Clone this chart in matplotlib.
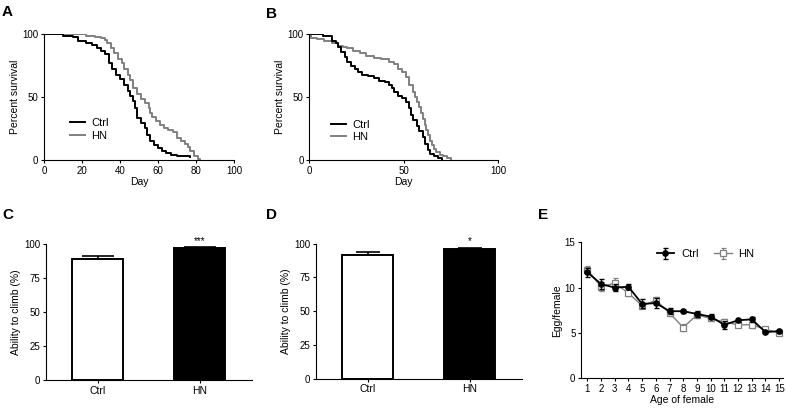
import numpy as np
import matplotlib
matplotlib.use("Agg")
import matplotlib.pyplot as plt

plt.rcParams['font.family'] = ['Liberation Sans', 'DejaVu Sans']
plt.rcParams['font.size'] = 7
plt.rcParams['axes.linewidth'] = 0.8
plt.rcParams['xtick.major.width'] = 0.8
plt.rcParams['ytick.major.width'] = 0.8
plt.rcParams['xtick.major.size'] = 2.5
plt.rcParams['ytick.major.size'] = 2.5
plt.rcParams['xtick.major.pad'] = 1.5
plt.rcParams['ytick.major.pad'] = 1.5
plt.rcParams['xtick.labelsize'] = 7
plt.rcParams['ytick.labelsize'] = 7

GRAY = '#808080'

# survival A (day, percent)
a_ctrl_day = [0, 5, 10, 15, 18, 22, 25, 28, 30, 32, 34, 36, 38, 40, 42, 44, 45, 47, 48, 49,
              51, 53, 54, 56, 58, 60, 62, 64, 67, 70, 73, 77]
a_ctrl_pct = [100, 99.5, 98.5, 97, 94, 92.5, 91, 88.5, 86.5, 84, 77, 72, 67, 64, 59, 55, 51, 47, 41, 33,
              29, 25, 20, 15, 12, 9.5, 7.5, 5.5, 4, 3.3, 2.8, 2.6]
a_hn_day = [0, 18, 22, 27, 30, 32, 33, 35, 37, 39, 41, 42, 44, 45, 47, 49, 51, 53, 55, 56, 57,
            59, 61, 63, 65, 68, 70, 72, 74, 76, 77, 79, 81, 82]
a_hn_pct = [100, 99.5, 98.5, 97.5, 96.5, 95, 93, 89, 85, 80, 77, 72, 67, 63, 57, 52, 48, 45, 41, 37, 34,
            31, 28, 25, 23.5, 22, 17.5, 15, 13, 10, 7, 3, 0.5, 0]

# survival B
b_ctrl_day = [0, 7, 12, 14, 15, 17, 19, 20, 22, 24, 26, 28, 31, 34, 37, 40, 42, 44, 45, 47, 49,
              51, 53, 54, 55, 57, 58, 60, 61, 63, 64, 66, 68, 70]
b_ctrl_pct = [100, 99, 95, 93, 90, 86, 82, 78, 75, 72, 70, 68, 67, 65, 63, 62, 60, 57, 54, 51, 49,
              46, 41, 36, 32, 27, 23, 18, 13, 8, 5, 3, 1.5, 0]
b_hn_day = [0, 1, 4, 8, 12, 15, 18, 20, 23, 27, 30, 34, 38, 42, 45, 47, 49, 51, 53, 55, 56, 57,
            58, 59, 60, 61, 62, 63, 64, 65, 66, 67, 69, 71, 73, 75]
b_hn_pct = [100, 97, 96, 95, 93, 91, 90, 89, 87, 85, 83, 81, 80, 78, 76, 72, 70, 66, 60, 54, 50, 46,
            42, 37, 33, 28, 24, 20, 15, 12, 9, 6, 4, 3, 1.5, 0]

# climbing C, D
groups = ['Ctrl', 'HN']
c_mean = [89, 96.5]
c_err = [2, 1]
d_mean = [92, 96]
d_err = [2, 1]

# eggs E
age = list(range(1, 16))
e_ctrl = [11.7, 10.4, 10.0, 10.1, 8.2, 8.3, 7.4, 7.4, 7.1, 6.8, 5.9, 6.4, 6.5, 5.1, 5.2]
e_ctrl_err = [0.5, 0.5, 0.35, 0.3, 0.5, 0.6, 0.35, 0.15, 0.3, 0.3, 0.45, 0.15, 0.25, 0.15, 0.15]
e_hn = [12.0, 10.1, 10.5, 9.4, 8.0, 8.6, 7.2, 5.6, 7.0, 6.6, 6.2, 5.9, 5.9, 5.4, 5.0]
e_hn_err = [0.4, 0.5, 0.6, 0.3, 0.3, 0.4, 0.3, 0.4, 0.3, 0.3, 0.3, 0.25, 0.3, 0.2, 0.2]

fig = plt.figure(figsize=(7.86, 4.12), dpi=100)
W, H = 786.0, 412.0


def ax_px(l, r, t, b):
    return fig.add_axes([l / W, 1 - b / H, (r - l) / W, (b - t) / H])


def clean(ax):
    ax.spines['top'].set_visible(False)
    ax.spines['right'].set_visible(False)


def survival(ax, cd, cp, hd, hp, xt, leg_xy):
    ax.step(cd, cp, where='post', color='black', lw=1.4, label='Ctrl', zorder=3)
    ax.step(hd, hp, where='post', color=GRAY, lw=1.4, label='HN', zorder=2)
    ax.set_xlim(0, 100)
    ax.set_ylim(0, 100)
    ax.set_xticks(xt)
    ax.set_yticks([0, 50, 100])
    ax.set_xlabel('Day', fontsize=7.5, labelpad=1)
    ax.set_ylabel('Percent survival', fontsize=7.5, labelpad=2)
    ax.legend(loc='lower left', bbox_to_anchor=leg_xy, frameon=False, fontsize=8,
              handlelength=1.3, handletextpad=0.6, labelspacing=0.2, borderpad=0)
    clean(ax)


axA = ax_px(44, 234, 33.7, 160)
survival(axA, a_ctrl_day, a_ctrl_pct, a_hn_day, a_hn_pct, [0, 20, 40, 60, 80, 100], (0.11, 0.11))
axB = ax_px(309.3, 498.3, 34.3, 160)
survival(axB, b_ctrl_day, b_ctrl_pct, b_hn_day, b_hn_pct, [0, 50, 100], (0.088, 0.1))


def climb(ax, mean, err, star, cap):
    x = np.arange(len(groups))
    ax.bar(x, mean, width=0.5, color=['white', 'black'], edgecolor='black', linewidth=1.4, zorder=2)
    ax.errorbar(x, mean, yerr=[[0, 0], err], fmt='none', ecolor='black', elinewidth=1.2,
                capsize=cap, capthick=1.2, zorder=1)
    ax.text(1, mean[1] + err[1] + 1, star, ha='center', va='bottom', fontsize=7)
    ax.set_xlim(-0.51, 1.51)
    ax.set_ylim(0, 100)
    ax.set_xticks(x)
    ax.set_xticklabels(groups, fontsize=7.5)
    ax.set_yticks([0, 25, 50, 75, 100])
    ax.set_ylabel('Ability to climb (%)', fontsize=7.5, labelpad=2)
    clean(ax)


axC = ax_px(45.7, 251.7, 243.7, 380)
climb(axC, c_mean, c_err, '***', 11.5)
axD = ax_px(315.7, 521.7, 243.7, 378.7)
climb(axD, d_mean, d_err, '*', 8.5)

axE = ax_px(581, 783.3, 242.3, 378.3)
axE.errorbar(age, e_hn, yerr=e_hn_err, color=GRAY, marker='s', mfc='white', mec=GRAY, ms=3.8,
             mew=0.9, lw=1.0, capsize=1.8, elinewidth=0.8, label='HN', zorder=2)
axE.errorbar(age, e_ctrl, yerr=e_ctrl_err, color='black', marker='o', ms=3.8, lw=1.3,
             capsize=1.8, elinewidth=0.9, label='Ctrl', zorder=3)
axE.set_xlim(0.54, 15.3)
axE.set_ylim(0, 15)
axE.set_xticks(age)
axE.set_yticks([0, 5, 10, 15])
axE.set_xlabel('Age of female', fontsize=7.5, labelpad=1)
axE.set_ylabel('Egg/female', fontsize=7.5, labelpad=2)
h, l = axE.get_legend_handles_labels()
axE.legend(h[::-1], l[::-1], ncol=2, loc='upper right', bbox_to_anchor=(0.885, 0.99), frameon=False,
           fontsize=8, handlelength=1.6, handletextpad=0.6, columnspacing=1.4, borderpad=0)
clean(axE)

for lab, x, y in [('A', 2, 5), ('B', 266, 7), ('C', 2, 208), ('D', 266, 208), ('E', 538, 208)]:
    fig.text(x / W, 1 - y / H, lab, fontsize=11, fontweight='bold', va='top', ha='left')

fig.savefig('out.png', dpi=100)
